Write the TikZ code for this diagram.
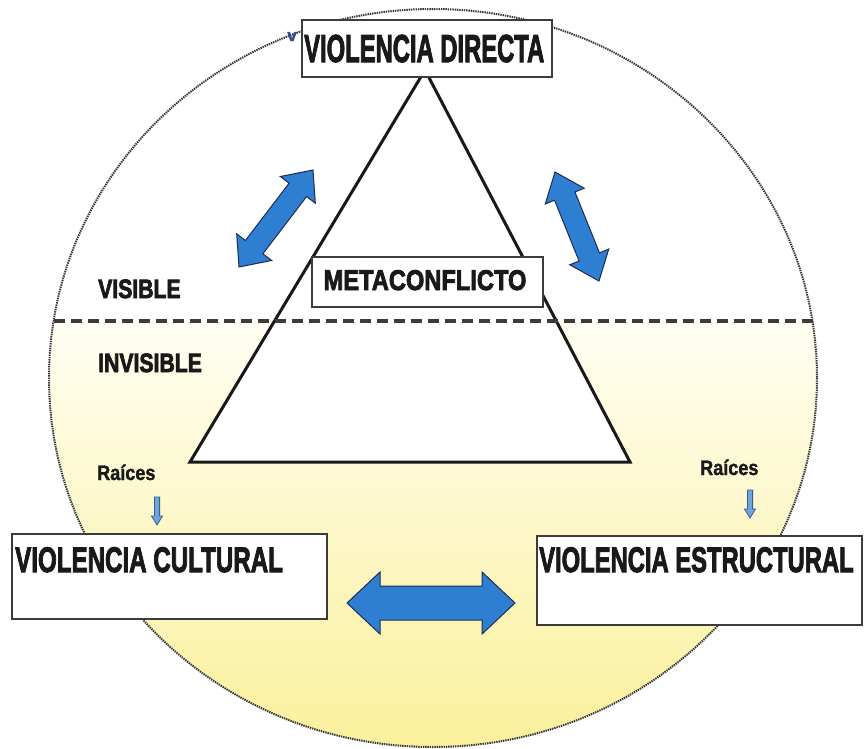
\documentclass[tikz,border=0pt]{standalone}
\usepackage{fontspec}
\setmainfont{Liberation Sans}
\newfontfamily\heavy[FakeBold=3]{Liberation Sans Bold}
\newfontfamily\medheavy[FakeBold=1.5]{Liberation Sans Bold}
\usetikzlibrary{calc}
\definecolor{ink}{RGB}{25,25,25}
\definecolor{arrowblue}{RGB}{46,126,210}
\definecolor{arrowedge}{RGB}{30,45,80}
\definecolor{lightblue}{RGB}{110,165,220}
\definecolor{smalledge}{RGB}{55,95,140}
\definecolor{yellowlo}{RGB}{250,240,155}
\definecolor{yellowhi}{RGB}{255,254,242}
\definecolor{rimgray}{RGB}{55,55,55}
\definecolor{vblue}{RGB}{50,75,140}

\newcommand{\nrw}[2]{\scalebox{#1}[1]{#2}}
% double block arrow between tips #1 and #2: head length #3, head half width #4, shaft half width #5
\newcommand{\dblarrow}[5]{%
  \path ($(#1)!#3!(#2)$) coordinate (ha) ($(#2)!#3!(#1)$) coordinate (hb);
  \filldraw[bigarrow] (#1) -- ($(ha)!#4!90:(#2)$) -- ($(ha)!#5!90:(#2)$)
    -- ($(hb)!#5!90:(#2)$) -- ($(hb)!#4!90:(#2)$) -- (#2)
    -- ($(hb)!#4!-90:(#2)$) -- ($(hb)!#5!-90:(#2)$) -- ($(ha)!#5!-90:(#2)$)
    -- ($(ha)!#4!-90:(#2)$) -- cycle;}
% single block arrow from tail #1 to tip #2
\newcommand{\sglarrow}[5]{%
  \path ($(#2)!#3!(#1)$) coordinate (hh);
  \filldraw[smallarrow] ($(#1)!#5!90:(#2)$) -- ($(hh)!#5!90:(#2)$) -- ($(hh)!#4!90:(#2)$)
    -- (#2) -- ($(hh)!#4!-90:(#2)$) -- ($(hh)!#5!-90:(#2)$) -- ($(#1)!#5!-90:(#2)$) -- cycle;}

\tikzset{
  box/.style={draw=ink!85, line width=1.5pt, fill=white, inner sep=0pt},
  lbl/.style={text=ink, inner sep=0pt},
  bigarrow/.style={fill=arrowblue, draw=arrowedge, line width=1pt, line join=miter},
  smallarrow/.style={fill=lightblue, draw=smalledge, line width=0.8pt, line join=miter},
  rim/.style={draw=rimgray, line width=2pt, dash pattern=on 1.4pt off 0.9pt},
}

\begin{document}
\begin{tikzpicture}[x=1pt,y=-1pt]
\useasboundingbox (0,0) rectangle (865,748);
\fill[white] (0,0) rectangle (865,748);

% yellow lower half
\begin{scope}
  \clip (433,378) ellipse [x radius=384, y radius=369];
  \shade[top color=yellowhi, bottom color=yellowlo] (40,321) rectangle (830,750);
\end{scope}
\draw[rim] (433,378) ellipse [x radius=384, y radius=369];

% triangle
\coordinate (apex) at (425,70);
\coordinate (bl) at (190,462);
\coordinate (br) at (630,462);
\draw[line width=3pt, fill=white, draw=ink, line join=miter] (apex) -- (bl) -- (br) -- cycle;

% dashed separation
\coordinate (dl) at (53.5,321);
\coordinate (dr) at (812.5,321);
\draw[line width=3.2pt, draw=ink!85, dash pattern=on 11pt off 6pt] (dl) -- (dr);

% boxes
\node[box, minimum width=250, minimum height=57] (directa) at (427,48.5) {};
\node[box, minimum width=231, minimum height=50] (meta) at (427.5,282) {};
\node[box, minimum width=315, minimum height=85] (cultural) at (169.5,576.5) {};
\node[box, minimum width=325, minimum height=89] (estructural) at (699.5,580.5) {};

% texts
\node[lbl, anchor=base west, font=\heavy\fontsize{39}{39}\selectfont] (tdir) at (304,62) {\nrw{0.61}{VIOLENCIA DIRECTA}};
\node[lbl, anchor=base, font=\heavy\fontsize{28.5}{28.5}\selectfont] (tmeta) at (425,290) {\nrw{0.83}{METACONFLICTO}};
\node[lbl, anchor=base west, font=\heavy\fontsize{26.5}{26.5}\selectfont] (tvis) at (98,298) {\nrw{0.8}{VISIBLE}};
\node[lbl, anchor=base west, font=\heavy\fontsize{26.5}{26.5}\selectfont] (tinv) at (98,372) {\nrw{0.8}{INVISIBLE}};
\node[lbl, anchor=base west, font=\heavy\fontsize{35.5}{35.5}\selectfont] (tcul) at (15,572) {\nrw{0.68}{VIOLENCIA CULTURAL}};
\node[lbl, anchor=base west, font=\heavy\fontsize{35.5}{35.5}\selectfont] (test) at (539,572) {\nrw{0.67}{VIOLENCIA ESTRUCTURAL}};
\node[lbl, anchor=base west, font=\medheavy\fontsize{21}{21}\selectfont] (r1) at (97,480) {\nrw{0.86}{Raíces}};
\node[lbl, anchor=base west, font=\medheavy\fontsize{21}{21}\selectfont] (r2) at (700,475) {\nrw{0.86}{Raíces}};
\node[inner sep=0pt, anchor=base, text=vblue, font=\medheavy\fontsize{17}{17}\selectfont] (vmark) at (292,41) {v};

% big blue double arrows
\coordinate (a1) at (313,170); \coordinate (a2) at (239,267);
\dblarrow{a1}{a2}{25pt}{22pt}{11pt}
\coordinate (b1) at (555,172); \coordinate (b2) at (599,281);
\dblarrow{b1}{b2}{26pt}{21pt}{11pt}
\coordinate (c1) at (347,603); \coordinate (c2) at (515,603);
\dblarrow{c1}{c2}{33pt}{31pt}{17pt}

% small arrows under "Raíces"
\coordinate (s1) at (157,497); \coordinate (s2) at (157,525);
\sglarrow{s1}{s2}{9pt}{5.5pt}{2.6pt}
\coordinate (t1) at (750,490); \coordinate (t2) at (750,518);
\sglarrow{t1}{t2}{9pt}{5.5pt}{2.6pt}
\end{tikzpicture}
\end{document}
